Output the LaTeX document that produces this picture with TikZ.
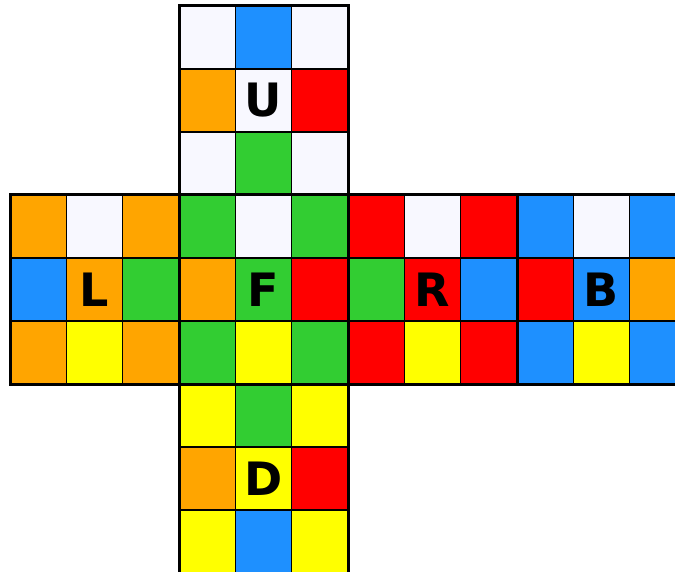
\documentclass[tikz,border=0pt]{standalone}
\usepackage{fontspec}
\setsansfont{DejaVu Sans}
\definecolor{cw}{HTML}{F8F8FF}
\definecolor{cb}{HTML}{1E90FF}
\definecolor{co}{HTML}{FFA500}
\definecolor{cr}{HTML}{FF0000}
\definecolor{cg}{HTML}{32CD32}
\definecolor{cy}{HTML}{FFFF00}
\newcommand\cubeface[4]{%
  \foreach \c [count=\i from 0] in {#4} {
    \pgfmathtruncatemacro\col{mod(\i,3)}
    \pgfmathtruncatemacro\row{div(\i,3)}
    \node[cell, fill=\c] (#1-\i) at (#2+\col*56.333, #3+\row*63) {};
  }
}
\newcommand\faceframe[3]{%
  \node[face] (#1) at (#2+84.5, #3+94.5) {#1};
}
\begin{document}
\begin{tikzpicture}[x=1pt, y=-1pt,
  cell/.style={draw=black, line width=1.6pt, minimum width=56.333pt, minimum height=63pt,
    inner sep=0pt, outer sep=0pt, anchor=north west},
  face/.style={draw=black, line width=3pt, minimum width=169pt, minimum height=189pt,
    inner sep=0pt, outer sep=0pt, font=\sffamily\bfseries\fontsize{46}{46}\selectfont}]
\useasboundingbox (0,0) rectangle (675,572);
\clip (0,0) rectangle (675,572);
\cubeface{U}{179}{6}{cw,cb,cw,co,cw,cr,cw,cg,cw}
\cubeface{L}{10}{195}{co,cw,co,cb,co,cg,co,cy,co}
\cubeface{F}{179}{195}{cg,cw,cg,co,cg,cr,cg,cy,cg}
\cubeface{R}{348}{195}{cr,cw,cr,cg,cr,cb,cr,cy,cr}
\cubeface{B}{517}{195}{cb,cw,cb,cr,cb,co,cb,cy,cb}
\cubeface{D}{179}{384}{cy,cg,cy,co,cy,cr,cy,cb,cy}
\faceframe{U}{179}{6}
\faceframe{L}{10}{195}
\faceframe{F}{179}{195}
\faceframe{R}{348}{195}
\faceframe{B}{517}{195}
\faceframe{D}{179}{384}
\end{tikzpicture}
\end{document}
